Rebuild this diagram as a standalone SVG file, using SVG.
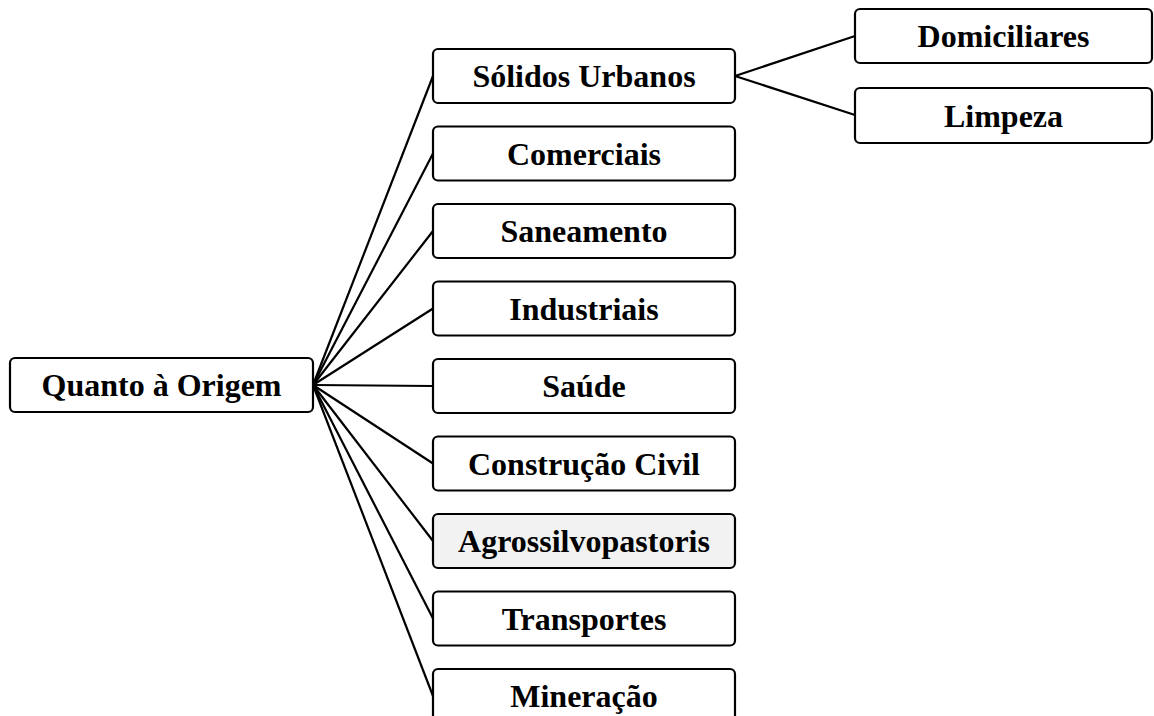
<svg xmlns="http://www.w3.org/2000/svg" width="1154" height="716" viewBox="0 0 1154 716">
<style>
.n rect{fill:#fff;stroke:#000;stroke-width:2.2}
.n text{font-family:"Liberation Serif","Times New Roman",serif;font-weight:bold;font-size:32px;text-anchor:middle;fill:#000}
.e line{stroke:#000;stroke-width:2.2}
</style>
<rect width="1154" height="716" fill="#fff"/>
<g class="e">
<line x1="313" y1="385" x2="433" y2="76"/>
<line x1="313" y1="385" x2="433" y2="153.5"/>
<line x1="313" y1="385" x2="433" y2="231"/>
<line x1="313" y1="385" x2="433" y2="308.5"/>
<line x1="313" y1="385" x2="433" y2="386"/>
<line x1="313" y1="385" x2="433" y2="463.5"/>
<line x1="313" y1="385" x2="433" y2="541"/>
<line x1="313" y1="385" x2="433" y2="618.5"/>
<line x1="313" y1="385" x2="433" y2="696"/>
<line x1="735" y1="76" x2="855" y2="36"/>
<line x1="735" y1="76" x2="855" y2="115"/>
</g>
<g id="root" class="n"><rect x="10" y="358" width="303" height="54" rx="5"/><text x="161.5" y="396">Quanto à Origem</text></g>
<g id="solidos" class="n"><rect x="433" y="49" width="302" height="54" rx="5"/><text x="584" y="87">Sólidos Urbanos</text></g>
<g id="comerciais" class="n"><rect x="433" y="126.5" width="302" height="54" rx="5"/><text x="584" y="164.5">Comerciais</text></g>
<g id="saneamento" class="n"><rect x="433" y="204" width="302" height="54" rx="5"/><text x="584" y="242">Saneamento</text></g>
<g id="industriais" class="n"><rect x="433" y="281.5" width="302" height="54" rx="5"/><text x="584" y="319.5">Industriais</text></g>
<g id="saude" class="n"><rect x="433" y="359" width="302" height="54" rx="5"/><text x="584" y="397">Saúde</text></g>
<g id="construcao" class="n"><rect x="433" y="436.5" width="302" height="54" rx="5"/><text x="584" y="474.5">Construção Civil</text></g>
<g id="agro" class="n"><rect x="433" y="514" width="302" height="54" rx="5" style="fill:#f2f2f2"/><text x="584" y="552">Agrossilvopastoris</text></g>
<g id="transportes" class="n"><rect x="433" y="591.5" width="302" height="54" rx="5"/><text x="584" y="629.5">Transportes</text></g>
<g id="mineracao" class="n"><rect x="433" y="669" width="302" height="54" rx="5"/><text x="584" y="707">Mineração</text></g>
<g id="domiciliares" class="n"><rect x="855" y="9" width="297" height="54" rx="5"/><text x="1003.5" y="47">Domiciliares</text></g>
<g id="limpeza" class="n"><rect x="855" y="88" width="297" height="55" rx="5"/><text x="1003.5" y="126.5">Limpeza</text></g>
</svg>
